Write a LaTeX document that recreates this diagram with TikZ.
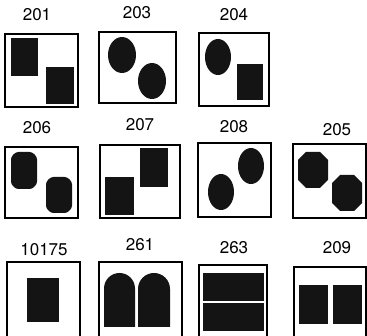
\documentclass[tikz,border=0pt]{standalone}
\usepackage{fontspec}
\setmainfont{TeX Gyre Heros}
\usepackage{tikz}

\begin{document}
\begin{tikzpicture}[x=1pt,y=-1pt,
  frame/.style={line width=1.5pt},
  blob/.style={fill=black!92},
  lbl/.style={font=\fontsize{17}{17}\selectfont}]
  \useasboundingbox (0,0) rectangle (367,336);
  % top row
  \node[lbl] (l201) at (37,15) {201};
  \node[lbl] (l203) at (137,13) {203};
  \node[lbl] (l204) at (234,15) {204};
  \draw[frame] (5,34) rectangle (78,107);
  \fill[blob] (11,38) rectangle (38,76);
  \fill[blob] (46,67) rectangle (74,104);
  \draw[frame] (99,32) rectangle (176,103);
  \fill[blob] (122,55) ellipse[x radius=14,y radius=18];
  \fill[blob] (152,81) ellipse[x radius=14,y radius=18];
  \draw[frame] (199,33) rectangle (269,106);
  \fill[blob] (218,57) ellipse[x radius=13,y radius=18];
  \fill[blob] (237,64) rectangle (263,100);
  % middle row
  \node[lbl] (l206) at (37,128) {206};
  \node[lbl] (l207) at (140,125) {207};
  \node[lbl] (l208) at (234,127) {208};
  \node[lbl] (l205) at (337,130) {205};
  \draw[frame] (5,147) rectangle (78,218);
  \fill[blob,rounded corners=2.5] (11,157) -- ++(0,27) -- ++(5,5) -- ++(16,0)
    -- ++(5,-5) -- ++(0,-27) -- ++(-5,-5) -- ++(-16,0) -- cycle;
  \fill[blob,rounded corners=2.5] (46,182) -- ++(0,26) -- ++(5,5) -- ++(16,0)
    -- ++(5,-5) -- ++(0,-26) -- ++(-5,-5) -- ++(-16,0) -- cycle;
  \draw[frame] (100,145) rectangle (180,218);
  \fill[blob] (105,177) rectangle (134,215);
  \fill[blob] (140,148) rectangle (168,187);
  \draw[frame] (198,143) rectangle (271,217);
  \fill[blob] (251,166) ellipse[x radius=13,y radius=18];
  \fill[blob] (221,192) ellipse[x radius=13,y radius=18];
  \draw[frame] (293,144) rectangle (366,218);
  \fill[blob] (298,160) -- ++(0,20) -- ++(8,8) -- ++(14,0) -- ++(8,-8)
    -- ++(0,-20) -- ++(-8,-8) -- ++(-14,0) -- cycle;
  \fill[blob] (332,183) -- ++(0,20) -- ++(8,8) -- ++(14,0) -- ++(8,-8)
    -- ++(0,-20) -- ++(-8,-8) -- ++(-14,0) -- cycle;
  % bottom row, boxes run off the page
  \node[lbl] (l10175) at (44,250) {10175};
  \node[lbl] (l261) at (140,245) {261};
  \node[lbl] (l263) at (234,248) {263};
  \node[lbl] (l209) at (337,248) {209};
  \draw[frame] (7,340) |- (80,262) -- (80,340);
  \fill[blob] (27,278) rectangle (59,322);
  \draw[frame] (99,340) |- (182,262) -- (182,340);
  \fill[blob] (104,327) -- (104,288.5) arc[start angle=180,end angle=360,radius=15.5]
    -- (135,327) -- cycle;
  \fill[blob] (138,327) -- (138,289) arc[start angle=180,end angle=360,radius=16]
    -- (170,327) -- cycle;
  \draw[frame] (199,340) |- (267,265) -- (267,340);
  \fill[blob] (203,273) rectangle (264,301);
  \fill[blob] (203,303) rectangle (264,331);
  \draw[frame] (294,340) |- (366,267) -- (366,340);
  \fill[blob] (299,285) rectangle (328,324);
  \fill[blob] (333,285) rectangle (362,324);
\end{tikzpicture}
\end{document}
